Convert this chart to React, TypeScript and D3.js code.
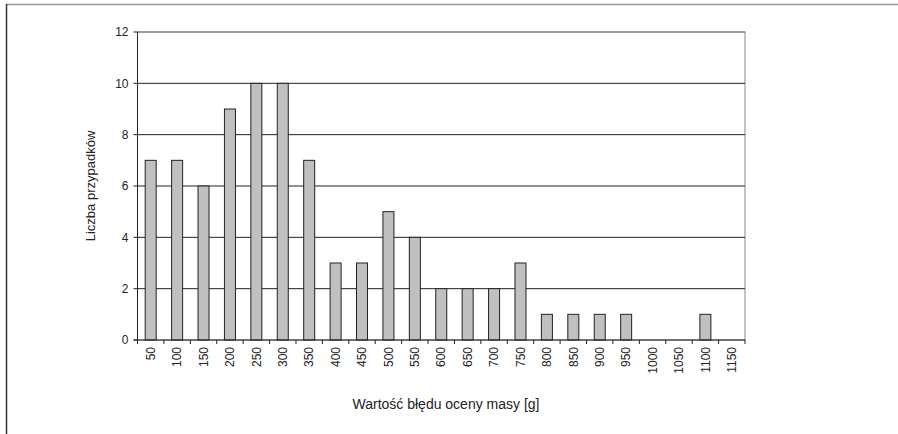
import React from "react";
import * as d3 from "d3";

const categories = ["50","100","150","200","250","300","350","400","450","500","550","600","650","700","750","800","850","900","950","1000","1050","1100","1150"];
const counts = [7,7,6,9,10,10,7,3,3,5,4,2,2,2,3,1,1,1,1,0,0,1,0];
const yTicks = [0,2,4,6,8,10,12];

export default function App() {
  const W = 898, H = 434;
  const left = 137.5, right = 745, top = 32, bottom = 340;
  const x = d3.scaleBand<string>().domain(categories).range([left, right]).paddingInner(0).paddingOuter(0);
  const y = d3.scaleLinear().domain([0, 12]).range([bottom, top]);
  const bw = 11;
  const font = "Arial, 'Liberation Sans', sans-serif";
  const boundaries = categories.map((c) => x(c)!).concat([right]);
  return (
    <svg width={W} height={H} style={{ position: "absolute", left: 0, top: 0 }}>
      <rect x={0} y={0} width={W} height={H} fill="#fff" />
      <line x1={6} y1={4.5} x2={W} y2={4.5} stroke="#999" strokeWidth={1.5} />
      <line x1={6.5} y1={4} x2={6.5} y2={H} stroke="#333" strokeWidth={1.5} />
      <rect x={left} y={top} width={right - left} height={bottom - top} fill="none" stroke="#888" strokeWidth={1} />
      {yTicks.filter((t) => t > 0).map((t) => (
        <line key={t} x1={left} x2={right} y1={y(t)} y2={y(t)} stroke={t === 12 ? "#777" : "#222"} strokeWidth={1} />
      ))}
      {categories.map((c, i) => (
        <rect key={c} x={x(c)! + x.bandwidth() / 2 - bw / 2} y={y(counts[i])} width={bw} height={bottom - y(counts[i])} fill="#c0c0c0" stroke="#222" strokeWidth={1} />
      ))}
      <line x1={left} x2={left} y1={top} y2={bottom} stroke="#222" strokeWidth={1} />
      <line x1={left - 4} x2={right} y1={bottom} y2={bottom} stroke="#222" strokeWidth={1} />
      {yTicks.map((t) => (
        <g key={t}>
          <line x1={left - 4} x2={left} y1={y(t)} y2={y(t)} stroke="#222" />
          <text x={left - 9} y={y(t)} dy="0.35em" textAnchor="end" fontFamily={font} fontSize={12} fill="#222">{t}</text>
        </g>
      ))}
      {boundaries.map((b, i) => (
        <line key={i} x1={b} x2={b} y1={bottom} y2={bottom + 4} stroke="#222" />
      ))}
      {categories.map((c) => (
        <text key={c} transform={`translate(${x(c)! + x.bandwidth() / 2},${bottom + 7}) rotate(-90)`} textAnchor="end" dy="0.35em" fontFamily={font} fontSize={12} fill="#222">{c}</text>
      ))}
      <text transform={`translate(95,${(top + bottom) / 2}) rotate(-90)`} textAnchor="middle" fontFamily={font} fontSize={13} fill="#222">Liczba przypadków</text>
      <text x={446} y={409} textAnchor="middle" fontFamily={font} fontSize={14} fill="#222">Wartość błędu oceny masy [g]</text>
    </svg>
  );
}
